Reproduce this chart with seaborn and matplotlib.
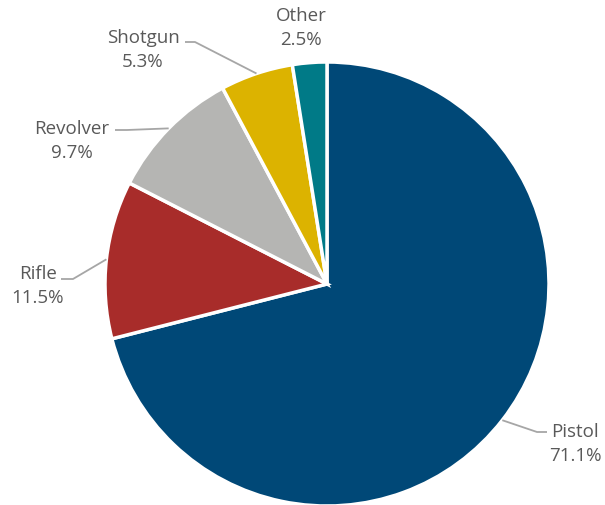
import numpy as np
import matplotlib
matplotlib.use("Agg")
import matplotlib.pyplot as plt
import seaborn as sns

categories = ["Pistol", "Rifle", "Revolver", "Shotgun", "Other"]
shares = [71.1, 11.5, 9.7, 5.3, 2.5]
colors = ["#004877", "#A82C2A", "#B5B5B3", "#DCB300", "#007A87"]

sns.set_theme(style="white")
plt.rcParams["font.family"] = ["Open Sans", "DejaVu Sans"]

W, H = 605, 506
fig = plt.figure(figsize=(W / 100, H / 100), dpi=100)
ax = fig.add_axes([0, 0, 1, 1])

cx, cy, R = 327, H - 285, 222
wedges, _ = ax.pie(shares, colors=colors, startangle=90, counterclock=False,
                   center=(cx, cy), radius=R, frame=True,
                   wedgeprops=dict(edgecolor="white", linewidth=2.5))
ax.set_xlim(0, W)
ax.set_ylim(0, H)
ax.set_aspect("equal")
ax.axis("off")

# label layout (pixel positions, y down): text centre, elbow, end of leader
layout = {
    "Pistol":   dict(text=(575, 444), elbow=(537, 433), end=(547, 433)),
    "Rifle":    dict(text=(38, 286), elbow=(73, 280), end=(61, 280)),
    "Revolver": dict(text=(72, 141), elbow=(127, 131), end=(115, 131)),
    "Shotgun":  dict(text=(143, 50), elbow=(195, 43), end=(185, 43)),
    "Other":    dict(text=(301, 28), elbow=None, end=None),
}
line_col = "#A6A6A6"
for w, cat, val in zip(wedges, categories, shares):
    L = layout[cat]
    ang = np.deg2rad((w.theta1 + w.theta2) / 2)
    ex, ey = cx + R * np.cos(ang), cy + R * np.sin(ang)
    if L["elbow"] is not None:
        bx, by = L["elbow"][0], H - L["elbow"][1]
        tx, ty = L["end"][0], H - L["end"][1]
        ax.plot([ex, bx, tx], [ey, by, ty], color=line_col, lw=1.3,
                solid_capstyle="butt", zorder=3)
    ax.text(L["text"][0], H - L["text"][1], f"{cat}\n{val}%", ha="center",
            va="center", multialignment="center", fontsize=13.5,
            color="#595959", linespacing=1.45)

fig.savefig("out.png", dpi=100)
